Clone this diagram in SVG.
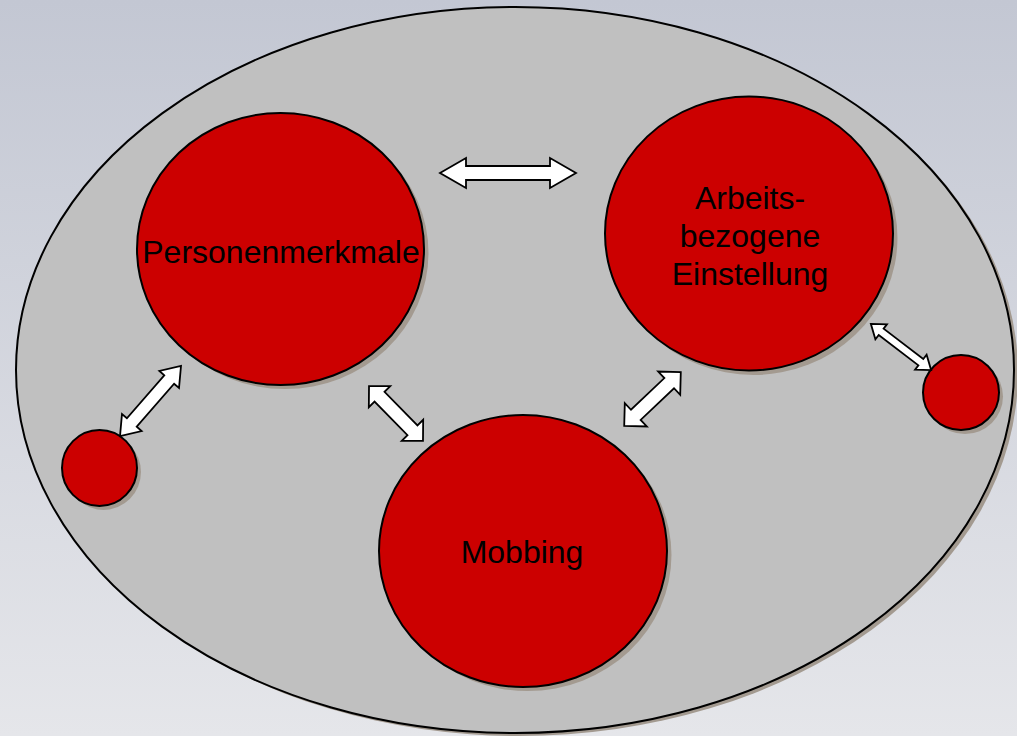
<svg xmlns="http://www.w3.org/2000/svg" width="1017" height="736" viewBox="0 0 1017 736">
  <defs>
    <linearGradient id="bg" x1="0" y1="0" x2="0" y2="1">
      <stop offset="0" stop-color="#c3c7d3"/>
      <stop offset="1" stop-color="#e5e6ea"/>
    </linearGradient>
    <style>
      .shadow { fill: #a39a90; }
      .node { fill: #cc0000; stroke: #000; stroke-width: 2; }
      .outer { fill: #c0c0c0; stroke: #000; stroke-width: 2; }
      .label { font-family: "Liberation Sans", Arial, sans-serif; font-size: 32px; fill: #000; text-anchor: middle; }
      .arrow { fill: #ffffff; stroke: #000; stroke-width: 1.8; stroke-linejoin: miter; }
    </style>
  </defs>
  <rect x="0" y="0" width="1017" height="736" fill="url(#bg)"/>

  <g id="outer">
    <ellipse class="shadow" cx="519" cy="373" rx="499" ry="363"/>
    <ellipse class="outer" cx="515" cy="370" rx="499" ry="363"/>
  </g>

  <g id="node-personenmerkmale">
    <ellipse class="shadow" cx="285" cy="253" rx="143.5" ry="136"/>
    <ellipse class="node" cx="280.5" cy="249" rx="143.5" ry="136"/>
    <text class="label" x="281" y="262.5">Personenmerkmale</text>
  </g>

  <g id="node-arbeitsbezogene">
    <ellipse class="shadow" cx="753.5" cy="238" rx="144" ry="137"/>
    <ellipse class="node" cx="749" cy="233.5" rx="144" ry="137"/>
    <text class="label" x="750" y="208.5">Arbeits-</text>
    <text class="label" x="750" y="246.7">bezogene</text>
    <text class="label" x="750" y="285">Einstellung</text>
  </g>

  <g id="node-mobbing">
    <ellipse class="shadow" cx="527.5" cy="555" rx="144" ry="136"/>
    <ellipse class="node" cx="523" cy="551" rx="144" ry="136"/>
    <text class="label" x="522" y="563.3">Mobbing</text>
  </g>

  <g id="node-small-left">
    <ellipse class="shadow" cx="103.5" cy="472" rx="37.5" ry="38"/>
    <ellipse class="node" cx="99.5" cy="468" rx="37.5" ry="38"/>
  </g>

  <g id="node-small-right">
    <ellipse class="shadow" cx="965" cy="396.5" rx="38" ry="37.5"/>
    <ellipse class="node" cx="961" cy="392.5" rx="38" ry="37.5"/>
  </g>

  <g id="connectors">
    <!-- Personenmerkmale <-> Arbeitsbezogene -->
    <polygon class="arrow" transform="translate(508,173)" points="-68,0 -42,-15 -42,-7 42,-7 42,-15 68,0 42,15 42,7 -42,7 -42,15"/>
    <!-- small left <-> Personenmerkmale -->
    <polygon class="arrow" transform="translate(150.5,401) rotate(-49)" points="-46.5,0 -28.5,-13 -28.5,-6.5 28.5,-6.5 28.5,-13 46.5,0 28.5,13 28.5,6.5 -28.5,6.5 -28.5,13"/>
    <!-- Personenmerkmale <-> Mobbing -->
    <polygon class="arrow" transform="translate(396,413.5) rotate(45.5)" points="-38.5,0 -23.5,-15 -23.5,-7 23.5,-7 23.5,-15 38.5,0 23.5,15 23.5,7 -23.5,7 -23.5,15"/>
    <!-- Mobbing <-> Arbeitsbezogene -->
    <polygon class="arrow" transform="translate(652.5,399) rotate(-43.5)" points="-39,0 -23,-16 -23,-7 23,-7 23,-16 39,0 23,16 23,7 -23,7 -23,16"/>
    <!-- Arbeitsbezogene <-> small right -->
    <polygon class="arrow" transform="translate(901,347) rotate(37.5)" points="-38,0 -25,-9.5 -25,-4 25,-4 25,-9.5 38,0 25,9.5 25,4 -25,4 -25,9.5"/>
  </g>
</svg>
